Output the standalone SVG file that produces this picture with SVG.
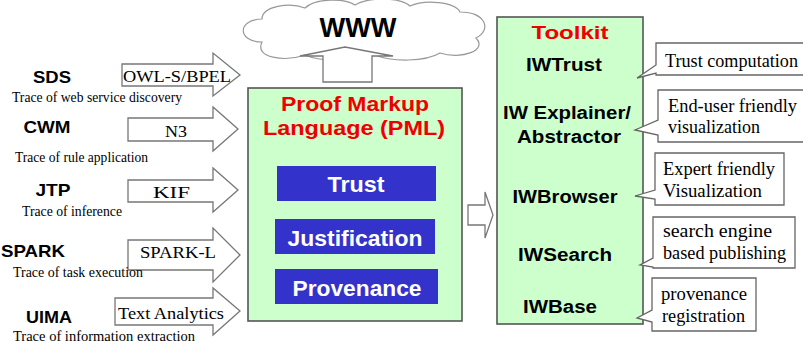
<svg xmlns="http://www.w3.org/2000/svg" width="803" height="347" viewBox="0 0 803 347">
<style>
.lbl{font-family:"Liberation Sans",Arial,sans-serif;font-weight:bold;font-size:17px;fill:#000;text-anchor:middle}
.sub{font-family:"Liberation Serif","Times New Roman",serif;font-size:14px;fill:#000}
.arr{fill:#fff;stroke:#777;stroke-width:1.3}
.atx{font-family:"Liberation Serif","Times New Roman",serif;font-size:17px;fill:#000}
.box{fill:#ccffcc;stroke:#555;stroke-width:1.6}
.red{font-family:"Liberation Sans",Arial,sans-serif;font-weight:bold;fill:#ee0000;text-anchor:middle}
.blue{fill:#3333cc}
.wt{font-family:"Liberation Sans",Arial,sans-serif;font-weight:bold;font-size:22px;fill:#fff;text-anchor:middle}
.tk{font-family:"Liberation Sans",Arial,sans-serif;font-weight:bold;font-size:18px;fill:#000;text-anchor:middle}
.co{fill:#fff;stroke:#666;stroke-width:1.3}
.ct{font-family:"Liberation Serif","Times New Roman",serif;font-size:18px;fill:#000}
</style>

<g id="cloud">
<path d="M262 42 C238 42,236 20,262 19 C262 6,290 2,305 8 C315 -2,345 -2,355 5 C368 -3,400 -3,410 6 C425 -1,455 2,460 12 C486 12,492 30,476 38 C488 50,462 60,440 53 C425 62,392 62,375 55 C360 62,320 62,305 55 C285 62,254 58,262 42 Z" fill="#fff" stroke="#999" stroke-width="1.2"/>
<text x="358" y="37" font-family="'Liberation Sans',Arial,sans-serif" font-weight="bold" font-size="27" text-anchor="middle" textLength="77" lengthAdjust="spacingAndGlyphs">WWW</text>
</g>

<g id="connectors">
<polygon class="arr" points="323,82 323,56 300,56 345,47 393,56 372,56 372,82"/>
<polygon class="arr" points="122,64 213,64 213,53 240,75 213,96 213,86 122,86"/>
<polygon class="arr" points="128,118 213,118 213,107 238,129 213,151 213,141 128,141"/>
<polygon class="arr" points="128,180 213,180 213,168 238,190 213,212 213,202 128,202"/>
<polygon class="arr" points="128,240 213,240 213,228 240,255 213,282 213,270 128,270"/>
<polygon class="arr" points="115,298 213,298 213,288 240,311 213,335 213,325 115,325"/>
<polygon class="arr" points="468,205 485,205 485,192 493,215 485,238 485,225 468,225"/>
<text class="atx" x="123" y="82" textLength="108" lengthAdjust="spacingAndGlyphs">OWL-S/BPEL</text>
<text class="atx" x="165" y="137" textLength="22" lengthAdjust="spacingAndGlyphs">N3</text>
<text class="atx" x="153" y="198" textLength="37" lengthAdjust="spacingAndGlyphs">KIF</text>
<text class="atx" x="140" y="258" textLength="76" lengthAdjust="spacingAndGlyphs">SPARK-L</text>
<text class="atx" x="118" y="319" font-size="18" textLength="106" lengthAdjust="spacingAndGlyphs">Text Analytics</text>
</g>

<g id="sds">
<text class="lbl" x="52" y="83" text-anchor="start" textLength="38" lengthAdjust="spacingAndGlyphs">SDS</text>
<text class="sub" x="12" y="102" textLength="170" lengthAdjust="spacingAndGlyphs">Trace of web service discovery</text>
</g>
<g id="cwm">
<text class="lbl" x="47" y="133" text-anchor="start" textLength="47" lengthAdjust="spacingAndGlyphs">CWM</text>
<text class="sub" x="15" y="162" textLength="133" lengthAdjust="spacingAndGlyphs">Trace of rule application</text>
</g>
<g id="jtp">
<text class="lbl" x="53" y="196" text-anchor="start" textLength="35" lengthAdjust="spacingAndGlyphs">JTP</text>
<text class="sub" x="22" y="216" textLength="100" lengthAdjust="spacingAndGlyphs">Trace of inference</text>
</g>
<g id="spark">
<text class="lbl" x="33" y="257" text-anchor="start" textLength="64" lengthAdjust="spacingAndGlyphs">SPARK</text>
<text class="sub" x="13" y="277" textLength="130" lengthAdjust="spacingAndGlyphs">Trace of task execution</text>
</g>
<g id="uima">
<text class="lbl" x="49" y="323" text-anchor="start" textLength="46" lengthAdjust="spacingAndGlyphs">UIMA</text>
<text class="sub" x="13" y="341" textLength="182" lengthAdjust="spacingAndGlyphs">Trace of information extraction</text>
</g>

<g id="pml">
<rect class="box" x="248" y="88" width="214" height="233"/>
<text class="red" x="355" y="111" font-size="20" textLength="148" lengthAdjust="spacingAndGlyphs">Proof Markup</text>
<text class="red" x="354" y="135" font-size="20" textLength="182" lengthAdjust="spacingAndGlyphs">Language (PML)</text>
</g>
<g id="trust">
<rect class="blue" x="277" y="166" width="159" height="35"/>
<text class="wt" x="356" y="192" textLength="57" lengthAdjust="spacingAndGlyphs">Trust</text>
</g>
<g id="justification">
<rect class="blue" x="275" y="219" width="160" height="35"/>
<text class="wt" x="355" y="246" textLength="135" lengthAdjust="spacingAndGlyphs">Justification</text>
</g>
<g id="provenance">
<rect class="blue" x="275" y="269" width="163" height="35"/>
<text class="wt" x="357" y="296" textLength="129" lengthAdjust="spacingAndGlyphs">Provenance</text>
</g>

<g id="toolkit">
<rect class="box" x="497" y="17" width="146" height="307"/>
<text class="red" x="570" y="39" font-size="18" textLength="77" lengthAdjust="spacingAndGlyphs">Toolkit</text>
<text class="tk" x="564" y="71" textLength="76" lengthAdjust="spacingAndGlyphs">IWTrust</text>
<text class="tk" x="567" y="119" textLength="128" lengthAdjust="spacingAndGlyphs">IW Explainer/</text>
<text class="tk" x="569" y="143" textLength="104" lengthAdjust="spacingAndGlyphs">Abstractor</text>
<text class="tk" x="565" y="203" textLength="105" lengthAdjust="spacingAndGlyphs">IWBrowser</text>
<text class="tk" x="565" y="261" textLength="94" lengthAdjust="spacingAndGlyphs">IWSearch</text>
<text class="tk" x="560" y="313" textLength="74" lengthAdjust="spacingAndGlyphs">IWBase</text>
</g>

<g id="callout-trust">
<path class="co" d="M656 43 H805 V75 H656 V73 L637 78 L656 65 Z"/>
<text class="ct" x="665" y="67" textLength="133" lengthAdjust="spacingAndGlyphs">Trust computation</text>
</g>
<g id="callout-enduser">
<path class="co" d="M658 90 H805 V142 H658 V135 L635 130 L658 120 Z"/>
<text class="ct" x="668" y="112" textLength="129" lengthAdjust="spacingAndGlyphs">End-user friendly</text>
<text class="ct" x="668" y="133">visualization</text>
</g>
<g id="callout-expert">
<path class="co" d="M655 153 H784 V205 H655 V199 L635 196 L655 190 Z"/>
<text class="ct" x="663" y="175" textLength="112" lengthAdjust="spacingAndGlyphs">Expert friendly</text>
<text class="ct" x="663" y="197" textLength="99" lengthAdjust="spacingAndGlyphs">Visualization</text>
</g>
<g id="callout-search">
<path class="co" d="M653 217 H795 V268 H653 V267 L640 265 L653 258 Z"/>
<text class="ct" x="663" y="237" textLength="109" lengthAdjust="spacingAndGlyphs">search engine</text>
<text class="ct" x="663" y="259" textLength="123" lengthAdjust="spacingAndGlyphs">based publishing</text>
</g>
<g id="callout-prov">
<path class="co" d="M652 278 H756 V331 H652 V322 L637 318 L652 310 Z"/>
<text class="ct" x="661" y="300" textLength="86" lengthAdjust="spacingAndGlyphs">provenance</text>
<text class="ct" x="662" y="322" textLength="83" lengthAdjust="spacingAndGlyphs">registration</text>
</g>
</svg>
